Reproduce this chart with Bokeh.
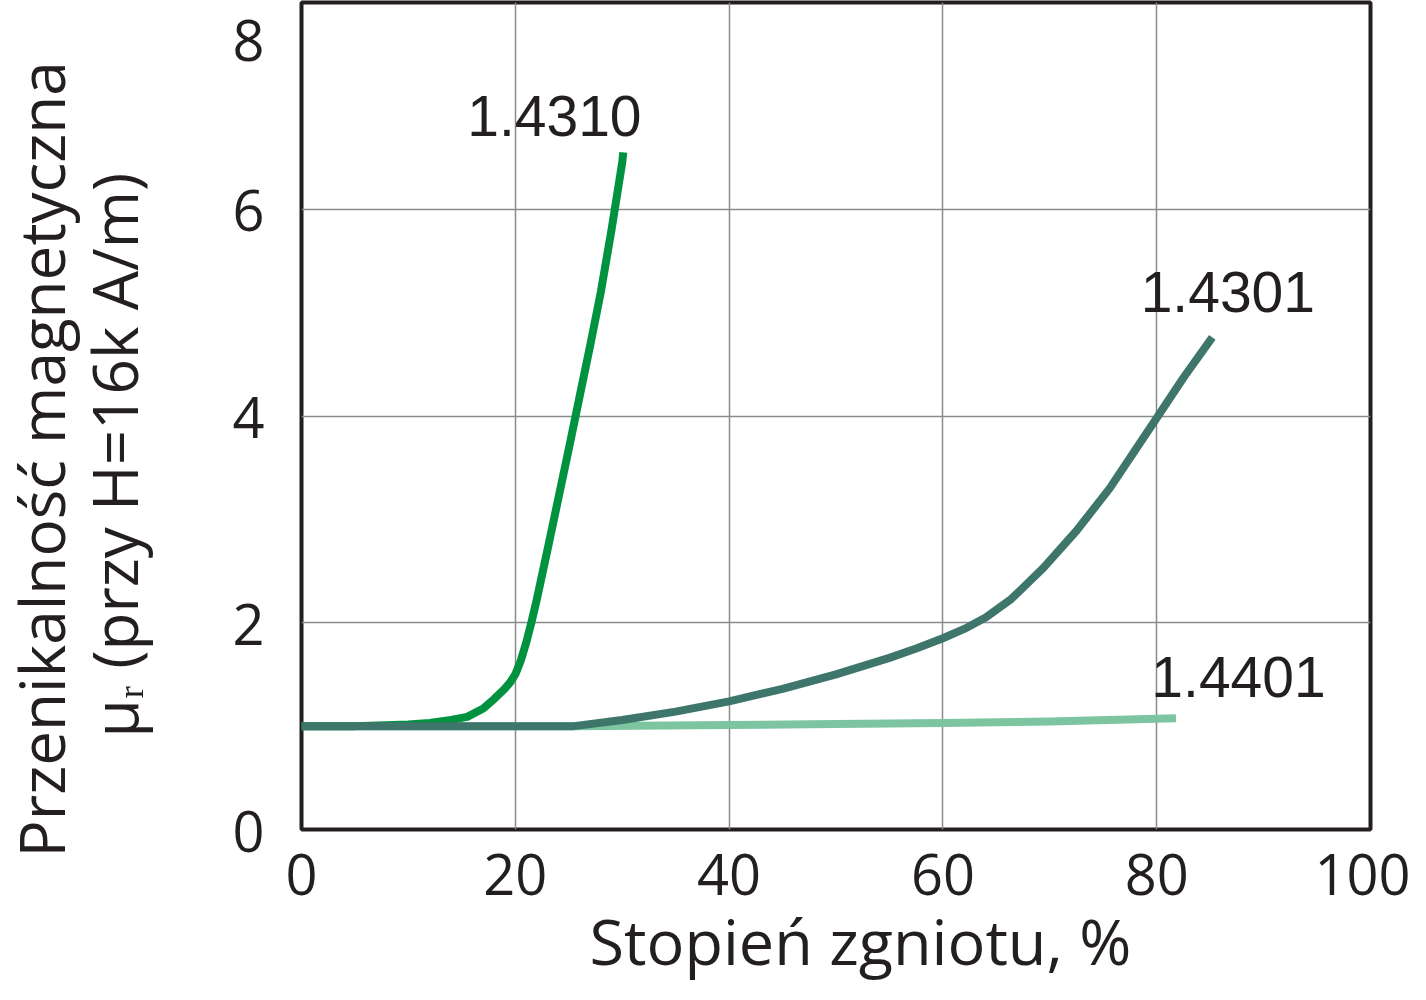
import math
from bokeh.plotting import figure
from bokeh.models import Range1d, Label, Title
from bokeh.embed import file_html
from bokeh.resources import INLINE

# ---- data ----
x_ticks = [0, 20, 40, 60, 80, 100]
y_ticks = [0, 2, 4, 6, 8]

x_1_4310 = [0, 5, 10, 12, 14, 15.5, 17, 18, 19, 19.5, 20, 20.5, 21, 21.5, 22, 23, 24, 25, 26, 27, 28, 29, 30, 30.1]
y_1_4310 = [1.0, 1.0, 1.015, 1.03, 1.06, 1.09, 1.17, 1.26, 1.36, 1.42, 1.5, 1.63, 1.8, 2.0, 2.22, 2.7, 3.19, 3.68, 4.18, 4.68, 5.2, 5.8, 6.45, 6.55]

x_1_4301 = [0, 25.5, 30, 35, 40, 45, 50, 55, 57.5, 60, 62, 64, 66.4, 69.4, 72.5, 75.6, 78.7, 80, 82.5, 85.2]
y_1_4301 = [1.0, 1.0, 1.06, 1.14, 1.24, 1.36, 1.5, 1.66, 1.75, 1.85, 1.94, 2.05, 2.23, 2.53, 2.89, 3.3, 3.78, 3.98, 4.37, 4.76]

x_1_4401 = [0, 25.5, 40, 50, 60, 70, 81.8]
y_1_4401 = [1.0, 1.0, 1.01, 1.02, 1.03, 1.045, 1.075]

series_names = ["1.4401", "1.4310", "1.4301"]
series_colors = ["#7dc5a0", "#00923f", "#3e766b"]
label_x = [79.5, 15.5, 78.5]
label_y = [1.48, 6.90, 5.20]

x_title = "Stopień zgniotu, %"
y_title_1 = "Przenikalność magnetyczna"
y_title_2 = "μᵣ (przy H=16k A/m)"

INK = "#231f20"
TICK_FONT = "Open Sans"
TITLE_FONT = "Open Sans"
LABEL_FONT = "Liberation Sans"

p = figure(width=1410, height=984,
           x_range=Range1d(0, 100), y_range=Range1d(0, 8),
           output_backend="svg", toolbar_location=None,
           min_border_left=301, min_border_right=40,
           min_border_top=2, min_border_bottom=155)
p.background_fill_color = "white"
p.border_fill_color = "white"
p.outline_line_color = INK
p.outline_line_width = 4

for ax in (p.xaxis, p.yaxis):
    ax.axis_line_color = None
    ax.major_tick_line_color = None
    ax.minor_tick_line_color = None
    ax.major_tick_out = 0
    ax.major_tick_in = 0
    ax.minor_tick_out = 0
    ax.minor_tick_in = 0
    ax.major_label_text_font = TICK_FONT
    ax.major_label_text_font_size = "56px"
    ax.major_label_text_color = INK

p.xaxis.ticker = x_ticks
p.yaxis.ticker = y_ticks
p.xaxis.major_label_standoff = 24
p.yaxis.major_label_standoff = 37
# top label sits a little below its tick so that it stays inside the canvas
p.yaxis.major_label_overrides = {8: "\n8"}
p.yaxis.major_label_text_line_height = 0.0

# blank spacer between the tick labels and the y titles
p.yaxis.axis_label = " "
p.yaxis.axis_label_standoff = 56
p.yaxis.axis_label_text_font_size = "2px"

for g in (p.xgrid, p.ygrid):
    g.grid_line_color = "#8a8a8a"
    g.grid_line_width = 1.5

xs = [x_1_4401, x_1_4310, x_1_4301]
ys = [y_1_4401, y_1_4310, y_1_4301]
for xv, yv, c in zip(xs, ys, series_colors):
    p.line(xv, yv, line_color=c, line_width=8, line_join="round")

for name, lx, ly in zip(series_names, label_x, label_y):
    p.add_layout(Label(x=lx, y=ly, text=name, text_font=LABEL_FONT,
                       text_font_size="57px", text_color=INK,
                       text_align="left", text_baseline="alphabetic"))

# y title, second line (nearer the axis)
p.add_layout(Title(text=y_title_2, align="left", offset=92,
                   vertical_align="bottom", standoff=26,
                   text_font=TITLE_FONT, text_font_size="62px",
                   text_font_style="normal", text_color=INK), "left")
# y title, first line
p.add_layout(Title(text=y_title_1, align="left", offset=-28,
                   vertical_align="bottom", standoff=-53,
                   text_font=TITLE_FONT, text_font_size="62px",
                   text_font_style="normal", text_color=INK), "left")

# x title
p.add_layout(Title(text=x_title, align="left", offset=288,
                   vertical_align="top", standoff=0,
                   text_font=TITLE_FONT, text_font_size="63px",
                   text_font_style="normal", text_color=INK), "below")

open("out.html", "w").write(file_html(p, INLINE))
